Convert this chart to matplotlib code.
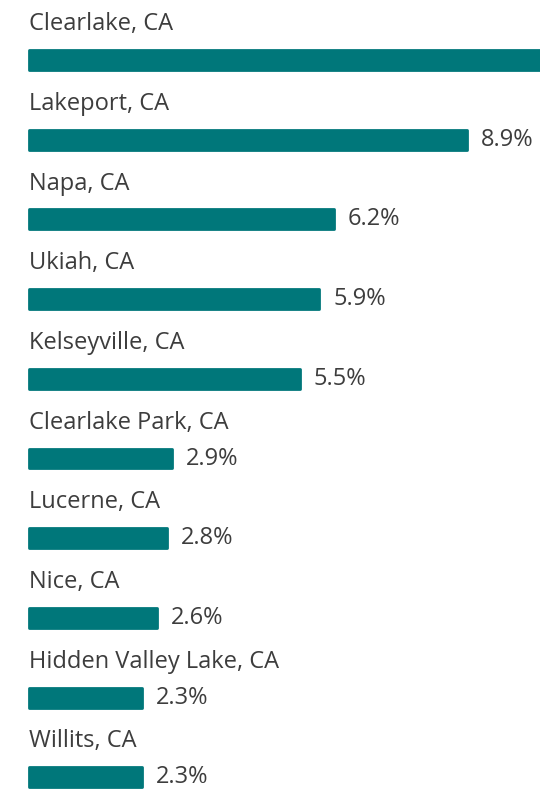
import matplotlib.pyplot as plt

cities = ['Clearlake, CA', 'Lakeport, CA', 'Napa, CA', 'Ukiah, CA', 'Kelseyville, CA',
          'Clearlake Park, CA', 'Lucerne, CA', 'Nice, CA', 'Hidden Valley Lake, CA', 'Willits, CA']
# first bar runs off the right edge in the picture, value is a guess
shares = [11.5, 8.9, 6.2, 5.9, 5.5, 2.9, 2.8, 2.6, 2.3, 2.3]

teal = '#00777a'
text_col = '#3d3d3d'

plt.rcParams['font.family'] = ['Open Sans', 'DejaVu Sans']

fig = plt.figure(figsize=(5.4, 7.89), dpi=100)
ax = fig.add_axes([0, 0, 1, 1])

px_per_unit = 49.2
row_px = 79.7
ax.set_xlim(-29 / px_per_unit, (540 - 29) / px_per_unit)
ax.set_ylim((789 - 60) / row_px, -60 / row_px)
ax.axis('off')

pos = list(range(len(cities)))
bars = ax.barh(pos, shares, height=0.25, color=teal, edgecolor=teal,
               linewidth=2, joinstyle='round')

for i, (name, val) in enumerate(zip(cities, shares)):
    ax.text(0, i - 0.45, name, fontsize=17, color=text_col, va='center', ha='left')
    ax.annotate(f'{val}%', xy=(val, i), xytext=(10, 0), textcoords='offset points',
                fontsize=17, color=text_col, va='center', ha='left')

fig.savefig('out.png', dpi=100)
